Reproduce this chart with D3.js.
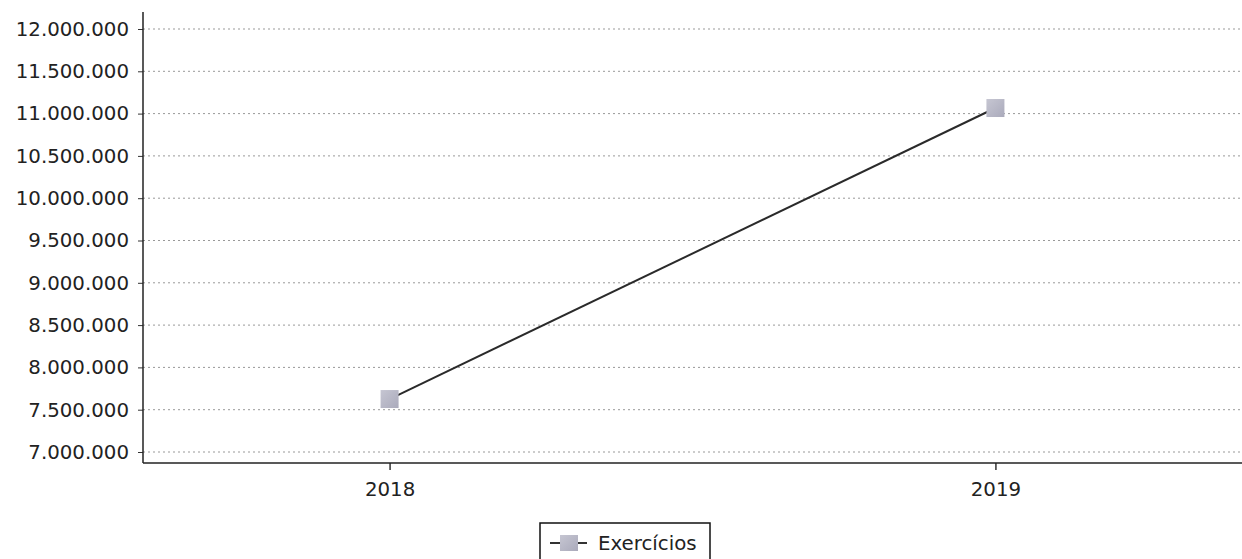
<!DOCTYPE html>
<html>
<head>
<meta charset="utf-8">
<script src="https://cdn.jsdelivr.net/npm/d3@7"></script>
<style>
  body { margin: 0; background: #fff; }
  text { font-family: "DejaVu Sans", sans-serif; fill: #222; }
</style>
</head>
<body>
<script>
const years = ['2018', '2019']
const values = [7626000, 11066000]
const yTicks = [7000000, 7500000, 8000000, 8500000, 9000000, 9500000, 10000000, 10500000, 11000000, 11500000, 12000000]
const seriesName = 'Exercícios'

const width = 1242
const height = 559
const margin = {top: 29, left: 143, right: 0}
const plotBottom = 463
const fontSize = '19.8px'

const data = years.map((y, i) => ({year: y, value: values[i]}))

const svg = d3.select('body').append('svg')
  .attr('width', width)
  .attr('height', height)

const defs = svg.append('defs')
const grad = defs.append('linearGradient').attr('id', 'mk')
  .attr('x1', 0).attr('y1', 0).attr('x2', 1).attr('y2', 1)
grad.append('stop').attr('offset', '0%').attr('stop-color', '#c6c6d2')
grad.append('stop').attr('offset', '100%').attr('stop-color', '#aaaabb')

const xScale = d3.scalePoint()
  .domain(years)
  .range([margin.left, width - margin.right])
  .padding(0.407)

const yScale = d3.scaleLinear()
  .domain([7000000, 12000000])
  .range([452, margin.top])

const fmt = d => d3.format(',')(d).replace(/,/g, '.')

// grid lines
svg.append('g').selectAll('line')
  .data(yTicks)
  .join('line')
  .attr('x1', margin.left)
  .attr('x2', width)
  .attr('y1', d => yScale(d))
  .attr('y2', d => yScale(d))
  .attr('stroke', '#999')
  .attr('stroke-width', 1)
  .attr('stroke-dasharray', '2,3')

const yAxis = d3.axisLeft(yScale)
  .tickValues(yTicks)
  .tickFormat(fmt)
  .tickSize(5)
  .tickPadding(9)

const yAxisGroup = svg.append('g')
  .attr('transform', `translate(${margin.left},0)`)
  .call(yAxis)
yAxisGroup.select('.domain').remove()
yAxisGroup.selectAll('text').style('font-size', fontSize).style('font-family', '"DejaVu Sans", sans-serif').attr('fill', '#222')
yAxisGroup.selectAll('line').attr('stroke', '#333')

svg.append('line')
  .attr('x1', margin.left).attr('x2', margin.left)
  .attr('y1', 12).attr('y2', plotBottom)
  .attr('stroke', '#222').attr('stroke-width', 1.5)

const xAxis = d3.axisBottom(xScale)
  .tickSize(7)
  .tickPadding(12)

const xAxisGroup = svg.append('g')
  .attr('transform', `translate(0,${plotBottom})`)
  .call(xAxis)
xAxisGroup.select('.domain').remove()
xAxisGroup.selectAll('text').style('font-size', fontSize).style('font-family', '"DejaVu Sans", sans-serif').attr('fill', '#222')
xAxisGroup.selectAll('line').attr('stroke', '#333').attr('stroke-width', 1.5)

svg.append('line')
  .attr('x1', margin.left).attr('x2', width)
  .attr('y1', plotBottom).attr('y2', plotBottom)
  .attr('stroke', '#222').attr('stroke-width', 1.5)

// series line
const line = d3.line()
  .x(d => xScale(d.year))
  .y(d => yScale(d.value))

svg.append('path')
  .datum(data)
  .attr('d', line)
  .attr('fill', 'none')
  .attr('stroke', '#2a2a2a')
  .attr('stroke-width', 2)

const mk = 18
svg.append('g').selectAll('rect')
  .data(data)
  .join('rect')
  .attr('x', d => xScale(d.year) - mk / 2)
  .attr('y', d => yScale(d.value) - mk / 2)
  .attr('width', mk)
  .attr('height', mk)
  .attr('fill', 'url(#mk)')

// legend
const legend = svg.append('g').attr('transform', 'translate(540,523)')
legend.append('rect')
  .attr('x', 0).attr('y', 0)
  .attr('width', 170).attr('height', 44)
  .attr('fill', '#fff')
  .attr('stroke', '#111').attr('stroke-width', 1.5)
legend.append('line')
  .attr('x1', 10).attr('x2', 47).attr('y1', 20).attr('y2', 20)
  .attr('stroke', '#333').attr('stroke-width', 2)
legend.append('rect')
  .attr('x', 20).attr('y', 12).attr('width', 18).attr('height', 16)
  .attr('fill', 'url(#mk)')
legend.append('text')
  .attr('x', 58).attr('y', 27)
  .style('font-size', fontSize)
  .text(seriesName)
</script>
</body>
</html>
